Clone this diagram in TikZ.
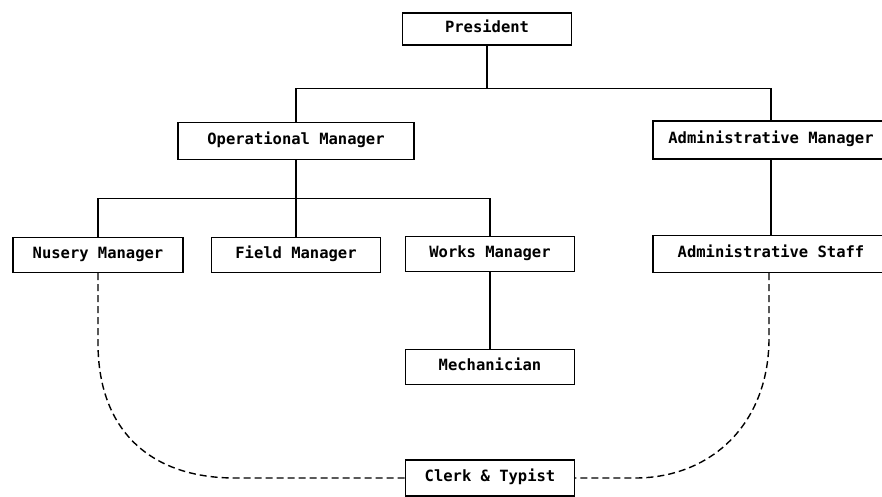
\documentclass[tikz,border=0pt]{standalone}
\usepackage{fontspec}
\setmonofont{DejaVu Sans Mono}
\usepackage{tikz}
\newcommand{\pcode}[1]{{\ttfamily\bfseries\fontsize{15.5}{18}\selectfont #1}}

\begin{document}
\begin{tikzpicture}[x=1pt, y=-1pt]
    \tikzset{
        post/.style={
            draw=black, fill=white, line width=1.3pt,
            minimum height=35pt, minimum width=169pt,
            inner sep=0pt, text depth=0pt, text height=0.73em,
            font=\ttfamily\bfseries\fontsize{15.5}{18}\selectfont
        },
        wide/.style={post, minimum width=236pt},
        link/.style={line width=1.3pt},
        loose/.style={line width=1.4pt, dash pattern=on 7pt off 4pt}
    }
    \path[use as bounding box, clip] (0,0) rectangle (882,496);

    % ==== Top ====
    \node[post, minimum height=32pt] (pres) at (487,29) {\pcode{President}};
    \node[wide, minimum height=37pt] (opm) at (296,141) {\pcode{Operational Manager}};
    \node[wide, minimum height=38pt] (adm) at (771,140) {\pcode{Administrative Manager}};

    % ==== Second row ====
    \node[post, minimum width=170pt] (nus) at (98,255) {\pcode{Nusery Manager}};
    \node[post] (fld) at (296,255) {\pcode{Field Manager}};
    \node[post] (wks) at (490,254) {\pcode{Works Manager}};
    \node[wide, minimum height=37pt] (ads) at (771,254) {\pcode{Administrative Staff}};

    % ==== Bottom ====
    \node[post] (mec) at (490,367) {\pcode{Mechanician}};
    \node[post, minimum height=36pt] (clk) at (490,478) {\pcode{Clerk \& Typist}};

    % ==== Solid links ====
    \draw[link] (pres.south) -- ++(0,43) coordinate (j1);
    \draw[link] (opm.north) |- (j1) -| (adm.north);
    \draw[link] (opm.south) -- (fld.north);
    \draw[link] (opm.south) ++(0,38) coordinate (j2);
    \draw[link] (nus.north) |- (j2) -| (wks.north);
    \draw[link] (wks.south) -- (mec.north);
    \draw[link] (adm.south) -- (ads.north);

    % ==== Dashed links ====
    \draw[loose] (nus.south) -- ++(0,70) coordinate (l1)
        .. controls (98,430) and (150,478) .. (235,478) -- (clk.west);
    \draw[loose] (ads.south -| 769,0) -- (769,338)
        .. controls (769,425) and (710,478) .. (635,478) -- (clk.east);

\end{tikzpicture}
\end{document}
